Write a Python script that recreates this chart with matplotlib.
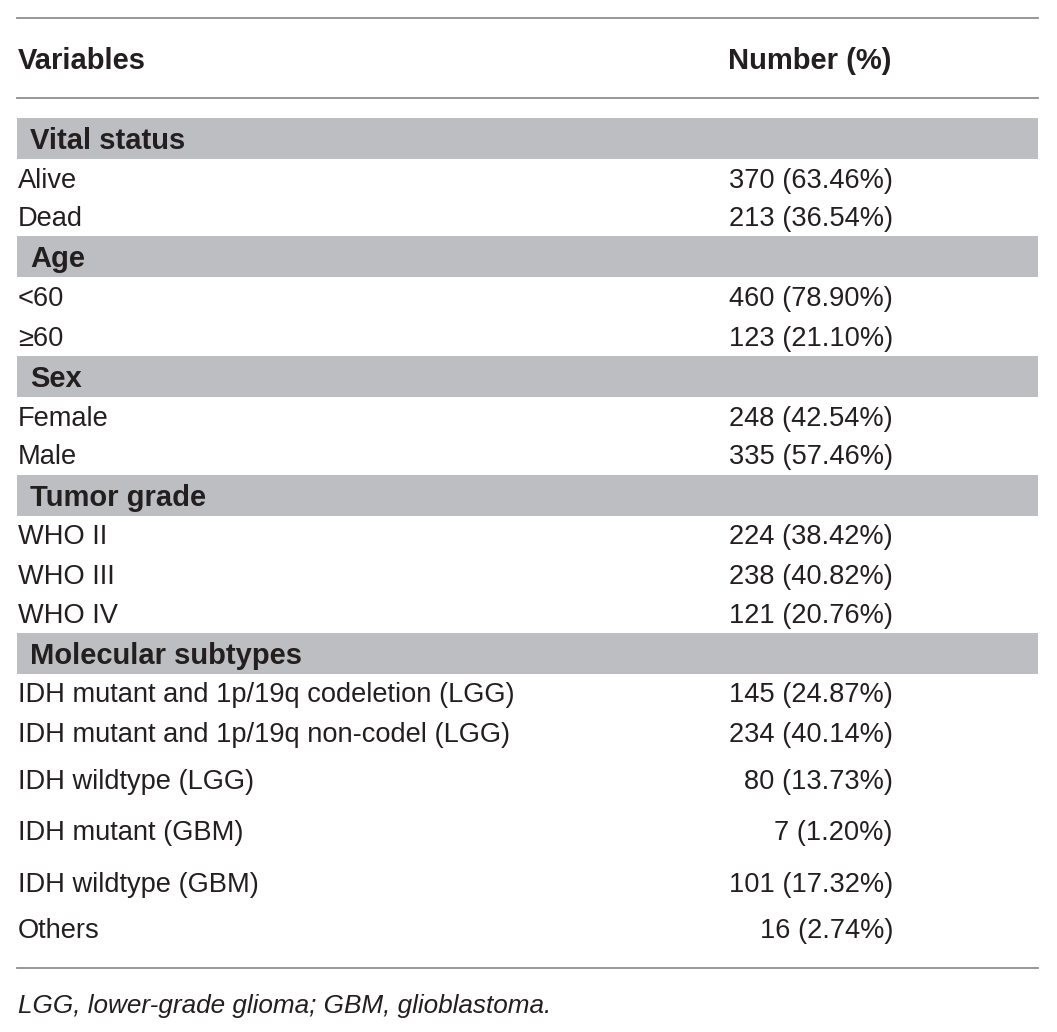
import matplotlib
matplotlib.use('Agg')
import matplotlib.pyplot as plt
from matplotlib.patches import Rectangle

# данные таблицы
sections = ['Vital status', 'Age', 'Sex', 'Tumor grade', 'Molecular subtypes']
labels = [
    ['Alive', 'Dead'],
    ['<60', '\u226560'],
    ['Female', 'Male'],
    ['WHO II', 'WHO III', 'WHO IV'],
    ['IDH mutant and 1p/19q codeletion (LGG)', 'IDH mutant and 1p/19q non-codel (LGG)',
     'IDH wildtype (LGG)', 'IDH mutant (GBM)', 'IDH wildtype (GBM)', 'Others'],
]
counts = [[370, 213], [460, 123], [248, 335], [224, 238, 121], [145, 234, 80, 7, 101, 16]]
percents = [[63.46, 36.54], [78.90, 21.10], [42.54, 57.46], [38.42, 40.82, 20.76],
            [24.87, 40.14, 13.73, 1.20, 17.32, 2.74]]
footnote = 'LGG, lower-grade glioma; GBM, glioblastoma.'

# высоты строк (пиксели) для последней группы неравные
row_h = [[39, 38], [40, 39], [39, 39], [39, 40, 38], [39, 40, 50, 52, 53, 42]]

plt.rcParams['font.family'] = ['Liberation Sans', 'DejaVu Sans']
fig = plt.figure(figsize=(10.57, 10.32), dpi=100)
ax = fig.add_axes([0, 0, 1, 1])
ax.set_xlim(0, 1057)
ax.set_ylim(1032, 0)
ax.axis('off')

x0, x1 = 17, 1038
xnum = 893
fs = 19.6
fsb = 21
line_c = '#8f8f8f'
band_c = '#bdbec1'
txt_c = '#231f20'

ax.plot([x0, x1], [18, 18], color=line_c, lw=1.3)
ax.text(18, 61, 'Variables', fontsize=fsb, fontweight='bold', va='center', color=txt_c)
ax.text(891, 61, 'Number (%)', fontsize=fsb, fontweight='bold', va='center', ha='right', color=txt_c)
ax.plot([x0, x1], [98, 98], color=line_c, lw=1.3)

y = 118
for s, labs, cnt, pct, hs in zip(sections, labels, counts, percents, row_h):
    ax.add_patch(Rectangle((x0, y), x1 - x0, 41, color=band_c, lw=0))
    ax.text(30, y + 23, s, fontsize=fsb, fontweight='bold', va='center', color=txt_c)
    y += 41
    for lab, c, p, h in zip(labs, cnt, pct, hs):
        yc = y + h / 2 + 2
        if h > 45:
            yc = y + h / 2 + 4
        ax.text(18, yc, lab, fontsize=fs, va='center', color=txt_c)
        ax.text(xnum, yc, '{} ({:.2f}%)'.format(c, p), fontsize=fs, va='center', ha='right', color=txt_c)
        y += h

ax.plot([x0, x1], [968, 968], color=line_c, lw=1.3)
ax.text(18, 1006, footnote, fontsize=18.8, style='italic', va='center', color=txt_c)

fig.savefig('out.png', dpi=100, facecolor='white')
